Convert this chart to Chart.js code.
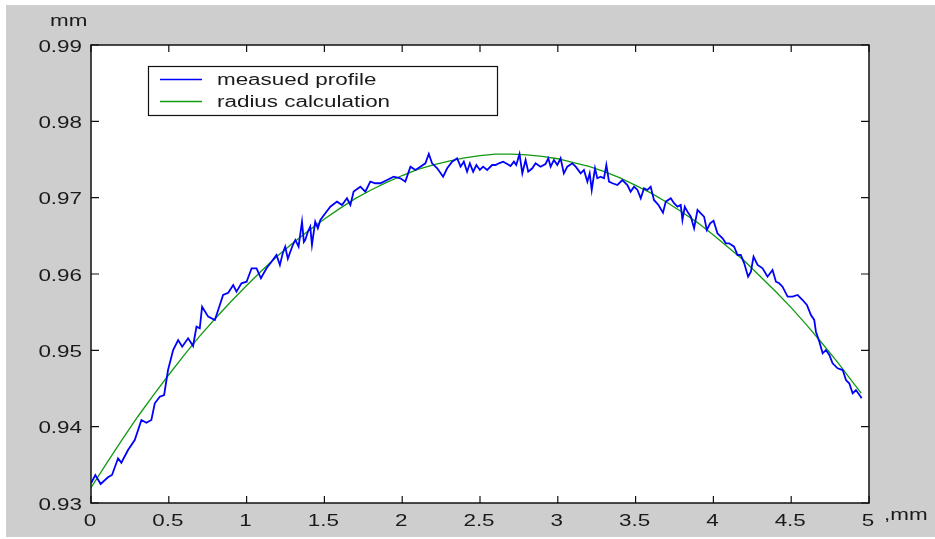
<!DOCTYPE html>
<html>
<head>
<meta charset="utf-8">
<script src="https://cdn.jsdelivr.net/npm/chart.js@4.4.1/dist/chart.umd.min.js"></script>
<style>
  html, body { margin: 0; padding: 0; background: #ffffff; }
  #wrap { position: absolute; left: 0; top: 0; width: 935px; height: 539px; }
</style>
</head>
<body>
<div id="wrap"><canvas id="c" width="935" height="539"></canvas></div>
<script>
// ---- data ----
const seriesLabels = ["measued profile", "radius calculation"];
const xTickValues = [0, 0.5, 1, 1.5, 2, 2.5, 3, 3.5, 4, 4.5, 5];
const xTickLabels = ["0", "0.5", "1", "1.5", "2", "2.5", "3", "3.5", "4", "4.5", "5"];
const yTickValues = [0.93, 0.94, 0.95, 0.96, 0.97, 0.98, 0.99];
const yTickLabels = ["0.93", "0.94", "0.95", "0.96", "0.97", "0.98", "0.99"];
const xUnitLabel = ",mm";
const yUnitLabel = "mm";

// measured profile (blue)
const measX = [0.000,0.028,0.062,0.109,0.135,0.174,0.195,0.238,0.281,0.324,0.356,0.388,0.410,0.442,0.470,0.495,0.528,0.560,0.586,0.624,0.656,0.678,0.699,0.714,0.753,0.796,0.828,0.849,0.882,0.914,0.935,0.967,1.000,1.032,1.064,1.092,1.128,1.160,1.192,1.214,1.232,1.248,1.265,1.281,1.297,1.313,1.334,1.356,1.368,1.377,1.395,1.409,1.420,1.441,1.458,1.474,1.506,1.538,1.581,1.613,1.645,1.667,1.688,1.731,1.763,1.795,1.827,1.860,1.903,1.945,1.988,2.020,2.053,2.085,2.117,2.149,2.171,2.192,2.225,2.263,2.289,2.321,2.353,2.375,2.396,2.417,2.435,2.456,2.477,2.499,2.520,2.546,2.578,2.600,2.621,2.649,2.675,2.696,2.718,2.733,2.754,2.772,2.793,2.810,2.836,2.857,2.889,2.921,2.939,2.954,2.975,2.997,3.018,3.039,3.061,3.093,3.115,3.147,3.168,3.190,3.205,3.218,3.239,3.254,3.275,3.297,3.312,3.329,3.351,3.383,3.415,3.447,3.468,3.490,3.512,3.533,3.554,3.576,3.597,3.618,3.647,3.676,3.694,3.726,3.747,3.769,3.790,3.801,3.816,3.833,3.855,3.876,3.898,3.919,3.940,3.958,3.979,4.001,4.026,4.059,4.080,4.101,4.133,4.155,4.176,4.198,4.223,4.241,4.258,4.284,4.316,4.348,4.380,4.402,4.423,4.444,4.477,4.509,4.541,4.573,4.601,4.627,4.648,4.659,4.681,4.702,4.723,4.745,4.766,4.798,4.831,4.852,4.873,4.895,4.916,4.931,4.953];
const measY = [0.93258,0.93367,0.93249,0.93337,0.93367,0.93586,0.93528,0.93694,0.93825,0.94087,0.94052,0.94087,0.94306,0.94393,0.94415,0.94742,0.95004,0.95135,0.95048,0.95158,0.95057,0.95310,0.95289,0.95572,0.95441,0.95398,0.95594,0.95725,0.95755,0.95856,0.95768,0.95878,0.95899,0.96075,0.96075,0.95944,0.96075,0.96161,0.96249,0.96118,0.96270,0.96358,0.96200,0.96292,0.96380,0.96446,0.96358,0.96686,0.96420,0.96446,0.96560,0.96620,0.96380,0.96686,0.96600,0.96708,0.96795,0.96882,0.96948,0.96904,0.96992,0.96904,0.97079,0.97144,0.97079,0.97210,0.97189,0.97189,0.97231,0.97275,0.97254,0.97210,0.97406,0.97363,0.97406,0.97450,0.97572,0.97450,0.97385,0.97275,0.97385,0.97472,0.97516,0.97406,0.97472,0.97340,0.97450,0.97340,0.97428,0.97363,0.97406,0.97363,0.97428,0.97428,0.97450,0.97472,0.97441,0.97415,0.97472,0.97428,0.97572,0.97319,0.97494,0.97340,0.97385,0.97450,0.97406,0.97441,0.97516,0.97406,0.97494,0.97428,0.97516,0.97319,0.97406,0.97450,0.97406,0.97319,0.97363,0.97210,0.97319,0.97101,0.97385,0.97254,0.97275,0.97254,0.97428,0.97210,0.97189,0.97166,0.97231,0.97166,0.97079,0.97144,0.97101,0.96992,0.97123,0.97101,0.97144,0.96970,0.96904,0.96803,0.96948,0.96992,0.96927,0.96882,0.96904,0.96708,0.96882,0.96817,0.96751,0.96599,0.96839,0.96795,0.96751,0.96577,0.96664,0.96698,0.96533,0.96467,0.96402,0.96402,0.96358,0.96249,0.96249,0.96140,0.95965,0.96031,0.96227,0.96118,0.96075,0.95965,0.96053,0.95899,0.95878,0.95834,0.95703,0.95703,0.95725,0.95659,0.95594,0.95463,0.95398,0.95244,0.95113,0.94961,0.95004,0.94939,0.94830,0.94765,0.94742,0.94611,0.94568,0.94437,0.94480,0.94437,0.94372];

// radius calculation (green)
const fitX = [0,0.1,0.2,0.3,0.4,0.5,0.6,0.7,0.8,0.9,1.0,1.1,1.2,1.3,1.4,1.5,1.6,1.7,1.8,1.9,2.0,2.1,2.2,2.3,2.4,2.5,2.6,2.7,2.8,2.9,3.0,3.1,3.2,3.3,3.4,3.5,3.6,3.7,3.8,3.9,4.0,4.1,4.2,4.3,4.4,4.5,4.6,4.7,4.8,4.9,4.95];
const fitY = [0.9320,0.9352,0.9383,0.9413,0.9441,0.9468,0.9494,0.9519,0.9542,0.9564,0.9585,0.9605,0.9624,0.9641,0.9657,0.9672,0.9686,0.9699,0.9710,0.9720,0.9729,0.9737,0.9743,0.9748,0.9752,0.9755,0.9757,0.9757,0.9756,0.9754,0.9751,0.9746,0.9741,0.9734,0.9726,0.9716,0.9706,0.9694,0.9681,0.9667,0.9651,0.9634,0.9617,0.9597,0.9577,0.9556,0.9533,0.9509,0.9484,0.9457,0.9444];

// ---- styling ----
const BLUE = "#0000ff";
const GREEN = "#109a10";
const GRAY = "#cecece";
const FONT = "16px 'Liberation Sans', Arial, sans-serif";
const STRETCH = 1.4;

function toPoints(xs, ys) { return xs.map((x, i) => ({ x: x, y: ys[i] })); }

function stretchedText(ctx, str, x, y, align) {
  ctx.save();
  ctx.translate(x, y);
  ctx.scale(STRETCH, 1);
  ctx.font = FONT;
  ctx.fillStyle = "#1a1a1a";
  ctx.textAlign = align;
  ctx.textBaseline = "alphabetic";
  ctx.fillText(str, 0, 0);
  ctx.restore();
}

const backgroundPlugin = {
  id: "bg",
  beforeDraw(chart) {
    const ctx = chart.ctx, a = chart.chartArea;
    ctx.save();
    ctx.fillStyle = "#ffffff";
    ctx.fillRect(0, 0, chart.width, chart.height);
    ctx.fillStyle = GRAY;
    ctx.fillRect(6, 5, chart.width - 6, 532);
    ctx.fillStyle = "#ffffff";
    ctx.fillRect(a.left, a.top, a.right - a.left, a.bottom - a.top);
    ctx.restore();
  }
};

const axesPlugin = {
  id: "matlabAxes",
  afterDraw(chart) {
    const ctx = chart.ctx, a = chart.chartArea;
    const xs = chart.scales.x, ys = chart.scales.y;
    const tl = 7;
    ctx.save();
    ctx.strokeStyle = "#111111";
    ctx.lineWidth = 1.5;
    ctx.strokeRect(a.left, a.top, a.right - a.left, a.bottom - a.top);
    ctx.lineWidth = 1.2;
    ctx.beginPath();
    xTickValues.forEach(v => {
      const px = xs.getPixelForValue(v);
      ctx.moveTo(px, a.bottom); ctx.lineTo(px, a.bottom - tl);
      ctx.moveTo(px, a.top); ctx.lineTo(px, a.top + tl);
    });
    yTickValues.forEach(v => {
      const py = ys.getPixelForValue(v);
      ctx.moveTo(a.left, py); ctx.lineTo(a.left + tl + 1, py);
      ctx.moveTo(a.right, py); ctx.lineTo(a.right - tl - 1, py);
    });
    ctx.stroke();
    ctx.restore();

    // tick labels
    xTickValues.forEach((v, i) => {
      const px = xs.getPixelForValue(v);
      stretchedText(ctx, xTickLabels[i], px - 1, a.bottom + 23, "center");
    });
    yTickValues.forEach((v, i) => {
      const py = ys.getPixelForValue(v);
      stretchedText(ctx, yTickLabels[i], a.left - 9, py + 6.5, "right");
    });
    stretchedText(ctx, yUnitLabel, 50, 25.5, "left");
    stretchedText(ctx, xUnitLabel, 884, 520, "left");

    // legend box
    const lx = 148, ly = 66, lw = 349, lh = 49;
    ctx.save();
    ctx.fillStyle = "#ffffff";
    ctx.fillRect(lx, ly, lw, lh);
    ctx.strokeStyle = "#111111";
    ctx.lineWidth = 1.2;
    ctx.strokeRect(lx + 0.5, ly + 0.5, lw, lh);
    const rows = [79.5, 101.5];
    chart.data.datasets.forEach((ds, i) => {
      ctx.strokeStyle = ds.borderColor;
      ctx.lineWidth = 1.3;
      ctx.beginPath();
      ctx.moveTo(160, rows[i]); ctx.lineTo(202, rows[i]);
      ctx.stroke();
    });
    ctx.restore();
    chart.data.datasets.forEach((ds, i) => {
      stretchedText(ctx, ds.label, 217, rows[i] + 5, "left");
    });
  }
};

new Chart(document.getElementById("c"), {
  type: "line",
  data: {
    datasets: [
      { label: seriesLabels[0], data: toPoints(measX, measY), borderColor: BLUE, borderWidth: 1.8, pointRadius: 0, tension: 0, fill: false },
      { label: seriesLabels[1], data: toPoints(fitX, fitY), borderColor: GREEN, borderWidth: 1.3, pointRadius: 0, tension: 0, fill: false }
    ]
  },
  options: {
    responsive: false,
    animation: false,
    devicePixelRatio: 1,
    layout: { padding: { left: 91, top: 45, right: 66, bottom: 36 } },
    plugins: { legend: { display: false }, tooltip: { enabled: false } },
    scales: {
      x: { type: "linear", min: 0, max: 5, display: false },
      y: { type: "linear", min: 0.93, max: 0.99, display: false }
    }
  },
  plugins: [backgroundPlugin, axesPlugin]
});
</script>
</body>
</html>
